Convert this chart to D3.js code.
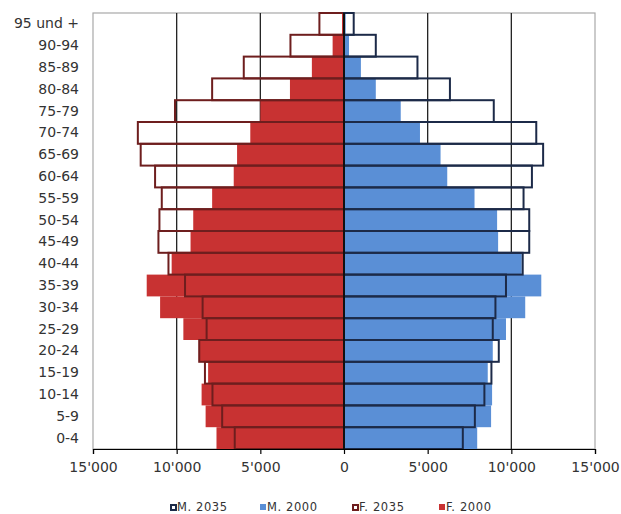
<!DOCTYPE html>
<html><head><meta charset="utf-8">
<script src="https://cdn.jsdelivr.net/npm/d3@7"></script>
<style>
html,body{margin:0;padding:0;background:#fff;}
svg{display:block;}
text{font-family:"DejaVu Sans",Verdana,sans-serif;fill:#333;}
</style></head>
<body>
<svg id="chart" width="621" height="514"></svg>
<script>
const ages = ["95 und +","90-94","85-89","80-84","75-79","70-74","65-69","60-64","55-59","50-54","45-49","40-44","35-39","30-34","25-29","20-24","15-19","10-14","5-9","0-4"];
const f2035 = [1470, 3200, 5990, 7880, 10100, 12320, 12150, 11290, 10890, 11030, 11090, 10490, 9500, 8450, 8210, 8650, 8310, 7860, 7280, 6530];
const f2000 = [120, 680, 1920, 3230, 5000, 5600, 6390, 6590, 7880, 9010, 9170, 10300, 11790, 10990, 9600, 8680, 8120, 8510, 8270, 7620];
const m2035 = [580, 1900, 4390, 6330, 8950, 11490, 11900, 11230, 10730, 11070, 11070, 10680, 9680, 9050, 8890, 9250, 8810, 8390, 7820, 7100];
const m2000 = [100, 300, 1010, 1900, 3390, 4540, 5770, 6170, 7800, 9150, 9210, 10620, 11790, 10830, 9680, 8890, 8590, 8850, 8790, 7960];
const tickValues = [-15000,-10000,-5000,0,5000,10000,15000];
const tickLabels = ["15'000","10'000","5'000","0","5'000","10'000","15'000"];
const legendLabels = ["M. 2035","M. 2000","F. 2035","F. 2000"];

const RED = "#c83232", BLUE = "#5a8fd6", RED_D = "#6e1e1e", BLUE_D = "#1c2a48";

const svg = d3.select("#chart");
const x = d3.scaleLinear().domain([-15000,15000]).range([93,595]);
const y = d3.scaleBand().domain(ages).range([13,449]).padding(0);

// plot border (gray)
svg.append("rect").attr("x",x(-15000)).attr("y",13).attr("width",x(15000)-x(-15000)).attr("height",449-13)
  .attr("fill","none").attr("stroke","#a8a8a8").attr("stroke-width",1.2);

// gridlines
svg.append("g").selectAll("line").data(tickValues.filter(v=>Math.abs(v)!==15000)).join("line")
  .attr("x1",d=>x(d)).attr("x2",d=>x(d)).attr("y1",13).attr("y2",449)
  .attr("stroke","#222").attr("stroke-width",1.3);

// 2000 filled bars
svg.append("g").selectAll("rect").data(ages).join("rect")
  .attr("x",(d,i)=>x(-f2000[i])).attr("y",d=>y(d)).attr("width",(d,i)=>x(0)-x(-f2000[i])).attr("height",y.bandwidth())
  .attr("fill",RED);
svg.append("g").selectAll("rect").data(ages).join("rect")
  .attr("x",x(0)).attr("y",d=>y(d)).attr("width",(d,i)=>x(m2000[i])-x(0)).attr("height",y.bandwidth())
  .attr("fill",BLUE);

// 2035 outline bars
svg.append("g").selectAll("rect").data(ages).join("rect")
  .attr("x",(d,i)=>x(-f2035[i])).attr("y",d=>y(d)).attr("width",(d,i)=>x(0)-x(-f2035[i])).attr("height",y.bandwidth())
  .attr("fill","none").attr("stroke",RED_D).attr("stroke-width",2);
svg.append("g").selectAll("rect").data(ages).join("rect")
  .attr("x",x(0)).attr("y",d=>y(d)).attr("width",(d,i)=>x(m2035[i])-x(0)).attr("height",y.bandwidth())
  .attr("fill","none").attr("stroke",BLUE_D).attr("stroke-width",2);

// center line
svg.append("line").attr("x1",x(0)).attr("x2",x(0)).attr("y1",13).attr("y2",449)
  .attr("stroke","#111").attr("stroke-width",2);

// bottom axis
const xAxis = d3.axisBottom(x).tickValues(tickValues).tickSize(5).tickFormat((d,i)=>tickLabels[i]);
const gx = svg.append("g").attr("transform","translate(0,449)").call(xAxis);
gx.select(".domain").attr("stroke","#000").attr("stroke-width",1.2);
gx.selectAll(".tick line").attr("stroke","#000").attr("stroke-width",1.2);
gx.selectAll(".tick text").attr("y",13).attr("font-size",14).attr("font-family","DejaVu Sans, Verdana, sans-serif").attr("fill","#333");

// y labels
const yAxis = d3.axisLeft(y).tickSize(0).tickPadding(0);
const gy = svg.append("g").attr("transform","translate(79,0)").call(yAxis);
gy.select(".domain").remove();
gy.selectAll(".tick text").attr("font-size",14).attr("font-family","DejaVu Sans, Verdana, sans-serif").attr("fill","#333");

// legend
const legX = [170, 260, 352, 439];
const legFill = ["#fff", BLUE, "#fff", RED];
const legStroke = [BLUE_D, null, RED_D, null];
const lg = svg.append("g");
legendLabels.forEach((t,i)=>{
  const r = lg.append("rect").attr("x",legX[i]).attr("y",504).attr("width",6).attr("height",6).attr("fill",legFill[i]);
  if(legStroke[i]) r.attr("stroke",legStroke[i]).attr("stroke-width",2).attr("x",legX[i]+1).attr("y",505).attr("width",5).attr("height",5);
  lg.append("text").attr("x",legX[i]+7).attr("y",507).attr("dy","0.35em").attr("font-size",11.5)
    .attr("letter-spacing","0.6px").text(t);
});
</script>
</body></html>
